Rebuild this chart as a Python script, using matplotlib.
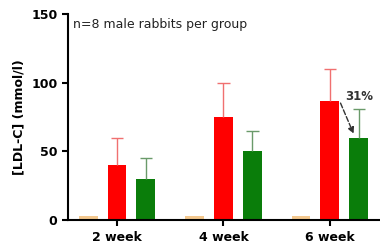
import numpy as np
import matplotlib.pyplot as plt

weeks = ['2 week', '4 week', '6 week']
control = [3, 3, 3]
hfd = [40, 75, 87]
hfd_err = [20, 25, 23]
treated = [30, 50, 60]
treated_err = [15, 15, 21]

fig = plt.figure(figsize=(3.8, 2.49), dpi=100)
ax = fig.add_axes([0.179, 0.116, 0.821, 0.828])

x = np.arange(len(weeks))
w = 0.178
off = 0.272
cap = 0.06


def upper_err(xs, ys, errs, color):
    # only the upper half of the error bar, like the original
    tops = np.array(ys) + np.array(errs)
    ax.vlines(xs, ys, tops, color=color, lw=1, zorder=3)
    ax.hlines(tops, xs - cap, xs + cap, color=color, lw=1, zorder=3)


ax.bar(x - off, control, w, color='#f4c88e')
ax.bar(x, hfd, w, color='#ff0000')
upper_err(x, hfd, hfd_err, '#f07070')
ax.bar(x + off, treated, w, color='#0a7d0a')
upper_err(x + off, treated, treated_err, '#6a9a6a')

ax.annotate('', xy=(2 + off - 0.04, treated[2] + 1), xytext=(2 + w / 2, hfd[2]),
            arrowprops=dict(arrowstyle='-|>', linestyle='--', color='#333333', lw=1,
                            mutation_scale=9))
ax.text(2 + off, 90, '31%', ha='center', va='center', fontsize=8.5,
        fontweight='bold', color='#333333')
ax.text(-0.41, 142, 'n=8 male rabbits per group', fontsize=9, color='#222222',
        ha='left', va='center')

ax.set_xlim(-0.46, 2.47)
ax.set_ylim(0, 150)
ax.set_yticks([0, 50, 100, 150])
ax.set_xticks(x)
ax.set_xticklabels(weeks)
ax.set_ylabel('[LDL-C] (mmol/l)', fontsize=9, fontweight='bold')
for lab in ax.get_xticklabels() + ax.get_yticklabels():
    lab.set_fontweight('bold')
    lab.set_fontsize(9)
ax.spines['top'].set_visible(False)
ax.spines['right'].set_visible(False)
ax.spines['left'].set_linewidth(1.5)
ax.spines['bottom'].set_linewidth(1.5)
ax.tick_params(width=1.5, length=4)

fig.savefig('out.png', dpi=100)
